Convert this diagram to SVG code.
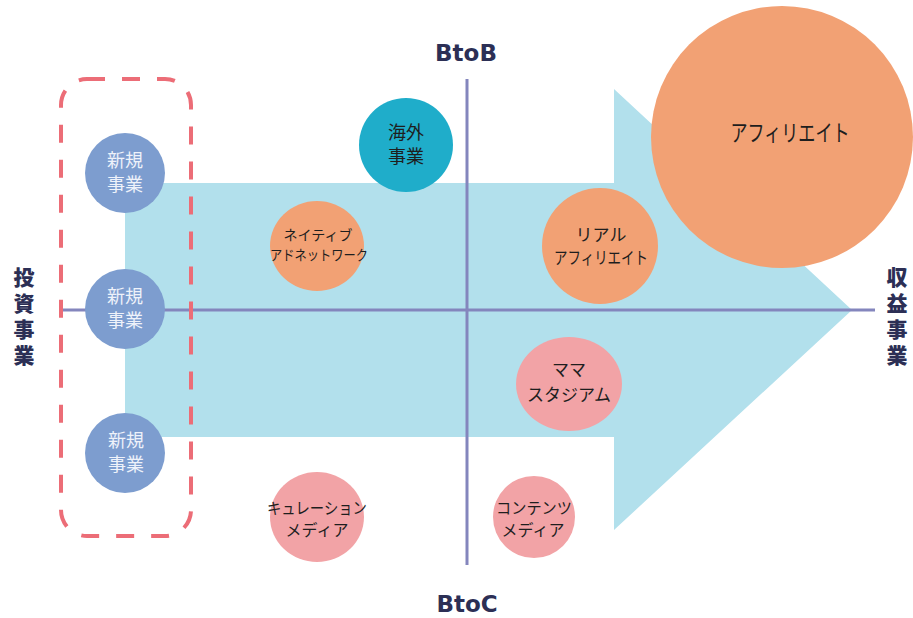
<svg xmlns="http://www.w3.org/2000/svg" width="913" height="618" viewBox="0 0 913 618">
<style>
.jp{font-family:"Noto Sans CJK JP","Noto Sans",sans-serif;text-anchor:middle;fill:#1e1e1e}
.wh{fill:#eef2fa}
.ax{font-family:"DejaVu Sans","Noto Sans CJK JP",sans-serif;font-weight:bold;fill:#2c2f55;text-anchor:middle}
.vt{font-family:"Noto Sans CJK JP",sans-serif;font-weight:900;fill:#2c2f55;font-size:21px;writing-mode:vertical-rl;letter-spacing:5px}
.blue{fill:#7d9dcf}
.pink{fill:#f2a3a6}
.orange{fill:#f2a174}
</style>
<rect width="913" height="618" fill="#fff"/>
<g id="arrow">
<polygon points="125,183 614,183 614,89 852,310 614,530 614,437 125,437" fill="#b2e0ec"/>
</g>
<g id="connectors" stroke="#8486bd" stroke-width="3" fill="none">
<line x1="61" y1="310" x2="875" y2="310"/>
<line x1="467" y1="79" x2="467" y2="565"/>
</g>
<g id="group-box">
<rect x="61" y="79" width="130" height="457" rx="26" fill="none" stroke="#ec6d77" stroke-width="4" stroke-dasharray="18 17"/>
</g>
<g id="label-btob"><text class="ax" x="466" y="61" font-size="23">BtoB</text></g>
<g id="label-btoc"><text class="ax" x="467" y="612" font-size="23">BtoC</text></g>
<g id="label-left">
<text class="vt" x="24" y="267">投資事業</text>
</g>
<g id="label-right">
<text class="vt" x="897" y="267">収益事業</text>
</g>
<g id="node-new1">
<circle class="blue" cx="125" cy="173" r="40"/>
<text class="jp wh" font-size="18"><tspan x="125" y="167">新規</tspan><tspan x="125" y="191">事業</tspan></text>
</g>
<g id="node-new2">
<circle class="blue" cx="125" cy="309" r="40"/>
<text class="jp wh" font-size="18"><tspan x="125" y="303">新規</tspan><tspan x="125" y="327">事業</tspan></text>
</g>
<g id="node-new3">
<circle class="blue" cx="125" cy="453" r="40"/>
<text class="jp wh" font-size="18"><tspan x="126" y="447">新規</tspan><tspan x="126" y="471">事業</tspan></text>
</g>
<g id="node-overseas">
<circle cx="406" cy="145" r="47" fill="#1fadca"/>
<text class="jp" font-size="18"><tspan x="406" y="139">海外</tspan><tspan x="406" y="163">事業</tspan></text>
</g>
<g id="node-native">
<ellipse class="orange" cx="317" cy="246" rx="47" ry="45"/>
<text class="jp" font-size="14"><tspan x="318" y="240">ネイティブ</tspan><tspan x="319" y="260" textLength="98" lengthAdjust="spacingAndGlyphs">アドネットワーク</tspan></text>
</g>
<g id="node-real-affiliate">
<circle class="orange" cx="600" cy="246" r="58"/>
<text class="jp" font-size="17"><tspan x="601" y="241">リアル</tspan><tspan x="601" y="264" textLength="94" lengthAdjust="spacingAndGlyphs">アフィリエイト</tspan></text>
</g>
<g id="node-affiliate">
<circle class="orange" cx="782" cy="137" r="131"/>
<text class="jp" font-size="23" x="790" y="141" textLength="119" lengthAdjust="spacingAndGlyphs">アフィリエイト</text>
</g>
<g id="node-mama">
<ellipse class="pink" cx="569" cy="384" rx="53" ry="47"/>
<text class="jp" font-size="17"><tspan x="569" y="376">ママ</tspan><tspan x="569" y="401">スタジアム</tspan></text>
</g>
<g id="node-contents">
<circle class="pink" cx="534" cy="517" r="41"/>
<text class="jp" font-size="16"><tspan x="534" y="514" textLength="76" lengthAdjust="spacingAndGlyphs">コンテンツ</tspan><tspan x="533" y="536">メディア</tspan></text>
</g>
<g id="node-curation">
<ellipse class="pink" cx="317" cy="517" rx="47" ry="45"/>
<text class="jp" font-size="16"><tspan x="317" y="514" textLength="100" lengthAdjust="spacingAndGlyphs">キュレーション</tspan><tspan x="317" y="536">メディア</tspan></text>
</g>
</svg>
